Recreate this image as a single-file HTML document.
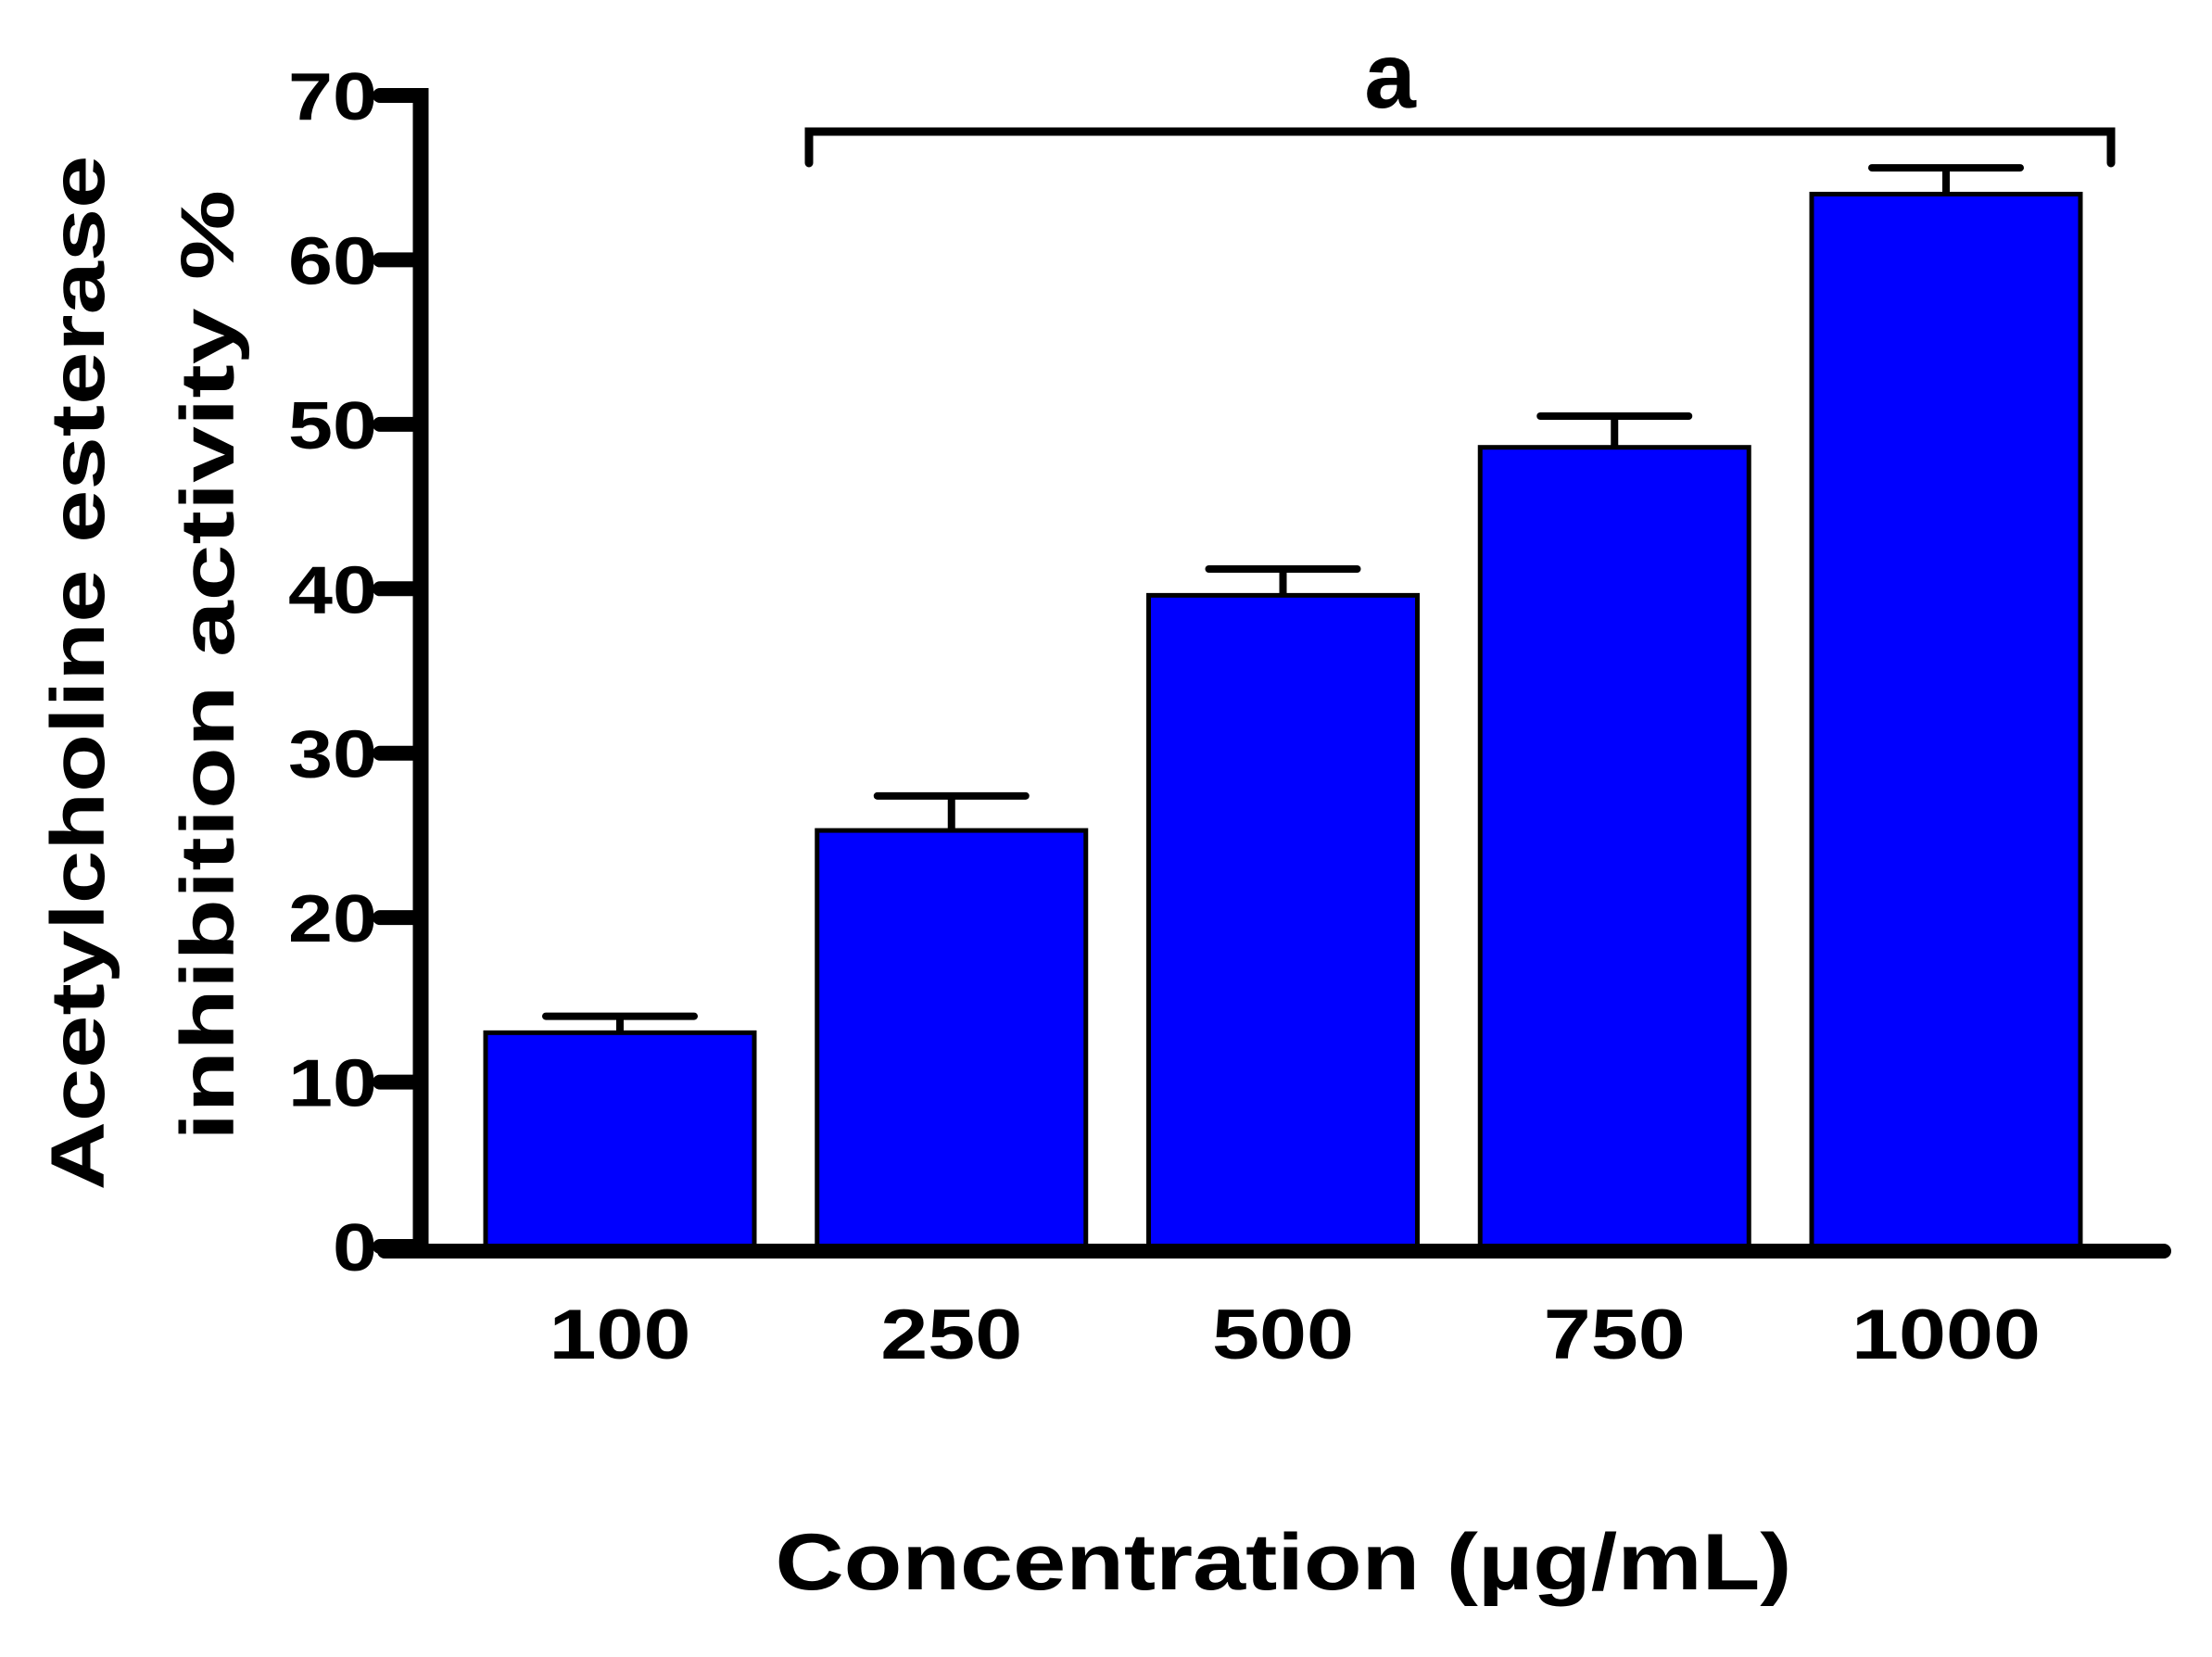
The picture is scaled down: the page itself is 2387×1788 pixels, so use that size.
<!DOCTYPE html>
<html><head><meta charset="utf-8"><style>html,body{margin:0;padding:0;background:#fff}svg{display:block}</style></head>
<body>
<svg id="chart" width="2387" height="1788" viewBox="0 0 2387 1788" xmlns="http://www.w3.org/2000/svg" font-family="'Liberation Sans', Arial, sans-serif" font-weight="bold">
<g id="plot"></g>
</svg>
<script>
const categories = ["100", "250", "500", "750", "1000"];
const values = [13.0, 25.3, 39.6, 48.6, 64.0];
const errors = [1.0, 2.1, 1.6, 1.9, 1.6];
const yTicks = [0, 10, 20, 30, 40, 50, 60, 70];

const NS = "http://www.w3.org/2000/svg";
const g = document.getElementById('plot');
const y0px = 1345, y70px = 103;
function yScale(v){ return y0px - (v/70)*(y0px - y70px); }
const firstBarLeft = 524, step = 357.75, barW = 290;
function xLeft(i){ return firstBarLeft + i*step; }
function mk(tag, attrs){ const e = document.createElementNS(NS, tag); for (const k in attrs) e.setAttribute(k, attrs[k]); g.appendChild(e); return e; }

categories.forEach((c, i) => {
  const top = yScale(values[i]);
  const cx = xLeft(i) + barW/2;
  const eb = yScale(values[i] + errors[i]);
  const l = mk('line', {x1: cx, x2: cx, y1: top, y2: eb, stroke: '#000', 'stroke-width': 8});
  
  
  const cap = mk('line', {x1: cx - 80, x2: cx + 80, y1: eb, y2: eb, stroke: '#000', 'stroke-width': 8, 'stroke-linecap': 'round'});
  
  
  const r = mk('rect', {x: xLeft(i), y: top, width: barW, height: y0px - top, fill: '#0000ff', stroke: '#000', 'stroke-width': 5});
  
  
  const t = mk('text', {x: cx, y: 1466, 'text-anchor': 'middle', 'font-size': 76, fill: '#000', textLength: c.length * 51, lengthAdjust: 'spacingAndGlyphs'});
  t.textContent = c;
  
  
});

const ya = mk('line', {x1: 454, x2: 454, y1: 95, y2: 1353, stroke: '#000', 'stroke-width': 17});


yTicks.forEach(v => {
  const y = yScale(v);
  const tk = mk('line', {x1: 410, x2: 454, y1: y, y2: y, stroke: '#000', 'stroke-width': 16, 'stroke-linecap': 'round'});
  
  
  const s = String(v);
  const t = mk('text', {x: 407, y: y + 26, 'text-anchor': 'end', 'font-size': 72, fill: '#000', textLength: s.length * 48, lengthAdjust: 'spacingAndGlyphs'});
  t.textContent = s;
  
  
});
const xa = mk('line', {x1: 415, x2: 2335, y1: 1350, y2: 1350, stroke: '#000', 'stroke-width': 16, 'stroke-linecap': 'round'});



const br = mk('path', {d: 'M873 176 V142 H2278 V176', fill: 'none', stroke: '#000', 'stroke-width': 9, 'stroke-linecap': 'round'});


const a = mk('text', {x: 1500, y: 116, 'text-anchor': 'middle', 'font-size': 100, fill: '#000'});
a.textContent = 'a';



const xt = mk('text', {x: 1385, y: 1715, 'text-anchor': 'middle', 'font-size': 86, fill: '#000', textLength: 1097, lengthAdjust: 'spacingAndGlyphs'});
xt.textContent = 'Concentration (µg/mL)';


const yt1 = mk('text', {x: 0, y: 0, 'text-anchor': 'middle', 'font-size': 82, fill: '#000', textLength: 1117, lengthAdjust: 'spacingAndGlyphs', transform: 'translate(112,726) rotate(-90)'});
yt1.textContent = 'Acetylcholine esterase';


const yt2 = mk('text', {x: 0, y: 0, 'text-anchor': 'middle', 'font-size': 82, fill: '#000', textLength: 1026, lengthAdjust: 'spacingAndGlyphs', transform: 'translate(252,718) rotate(-90)'});
yt2.textContent = 'inhibition activity  %';


</script>
</body></html>
